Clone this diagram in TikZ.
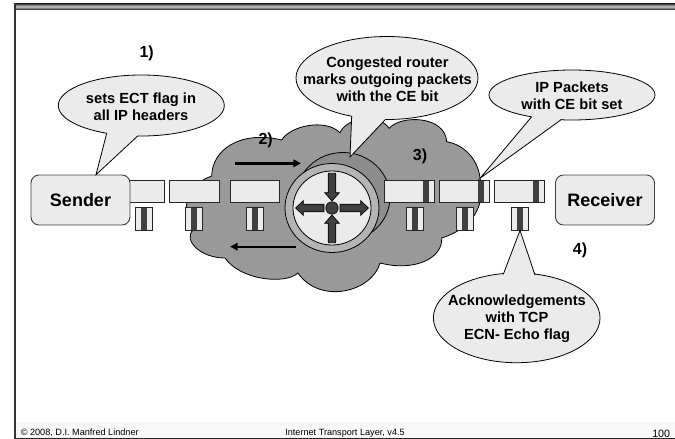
\documentclass[tikz,border=0pt]{standalone}
\usepackage{fontspec}
\setmainfont{Liberation Sans}
\usetikzlibrary{shapes.geometric,arrows.meta}
\definecolor{pale}{HTML}{EBEBEB}
\definecolor{cloudgray}{HTML}{999999}
\definecolor{ringgray}{HTML}{B4B4B4}
\definecolor{band}{HTML}{404040}
\definecolor{footband}{HTML}{F8F8F8}
\tikzset{
  px/.style={x=0.75pt,y=-0.75pt},
  call/.style={ellipse,draw=black,line width=0.6pt,fill=pale,inner sep=0pt},
  calltext/.style={inner sep=0pt,align=center,font=\fontsize{11}{12.9}\selectfont\bfseries},
  tailfill/.style={fill=pale,draw=none},
  tailline/.style={draw=black,line width=0.6pt,line join=miter},
  hostbox/.style={draw=black!75,line width=0.7pt,fill=pale,rounded corners=6pt,minimum width=74.25pt,minimum height=37.5pt,inner sep=0pt,font=\fontsize{13.5}{15}\selectfont\bfseries},
  pkt/.style={draw=black!85,line width=0.6pt,fill=pale},
  darkband/.style={fill=band,draw=none},
  step label/.style={font=\fontsize{12}{14}\selectfont\bfseries,inner sep=0pt},
  foot/.style={font=\fontsize{6.85}{9}\selectfont,inner sep=0pt,anchor=base west},
  flow/.style={draw=black,line width=1.8pt,-{Triangle[length=5.8pt,width=5.6pt]}},
  rarrow/.style={fill=band,draw=black,line width=0.5pt,line join=miter},
}
\begin{document}
\begin{tikzpicture}[px]
\useasboundingbox (0,0) rectangle (675,439);
% frame
\fill[footband] (16,422) rectangle (675,438);
\shade[top color=black!85,bottom color=black!85,middle color=black!20] (14,3.3) rectangle (675,9.7);
\fill[black!80] (14,3) rectangle (16,439);
\fill[black!85] (14,437.7) rectangle (675,438.9);
% cloud
\draw[fill=cloudgray,draw=black,line width=0.6pt,line join=miter]
 (211.7,176) .. controls (212,150) and (240,130) .. (281.7,140)
 .. controls (290,126) and (325,118) .. (340,132.7)
 .. controls (345,120) and (375,110) .. (389.3,128.3)
 .. controls (400,115) and (445,115) .. (446.7,141.7)
 .. controls (465,145) and (478,160) .. (480,178)
 .. controls (484,195) and (482,225) .. (441.7,238)
 .. controls (443,258) and (415,272) .. (380,263)
 .. controls (372,292) and (320,305) .. (298,273)
 .. controls (285,285) and (240,280) .. (225,258)
 .. controls (200,258) and (183,240) .. (193,230)
 .. controls (180,215) and (185,185) .. (211.7,176) -- cycle;
% router
\draw[fill=cloudgray!92!black,draw=black,line width=0.6pt] (343,197) ellipse [x radius=47,y radius=44.5];
\draw[fill=ringgray,draw=black,line width=0.6pt] (332,208) ellipse [x radius=47,y radius=44.5];
\draw[fill=pale,draw=black,line width=0.6pt] (332,208) ellipse [x radius=39,y radius=37];
\begin{scope}[shift={(332,208)}]
 \foreach \a/\b/\h/\t in {90/-34.7/-15.3/-7,270/-34.7/-15.3/-7,180/8/28.7/36.5,0/8/28.7/36.5}{
  \draw[rarrow,rotate=\a] (\b,-3.8) -- (\h,-3.8) -- (\h,-7.3) -- (\t,0) -- (\h,7.3) -- (\h,3.8) -- (\b,3.8) -- cycle;
 }
 \draw[fill=band,draw=black,line width=0.5pt] (0,0) circle [radius=6.2];
\end{scope}
% flow arrows
\coordinate (fa) at (235,163.3); \coordinate (fb) at (301,163.3);
\coordinate (ba) at (296,246.7); \coordinate (bb) at (230,246.7);
\draw[flow] (fa) -- (fb);
\draw[flow] (ba) -- (bb);
% packets
\foreach \l/\r in {128/164,169/219,230/279.5}{
  \draw[pkt] (\l,180.5) rectangle (\r,202.5);
}
\foreach \l/\r/\k in {384.3/434.3/423,439.3/489.7/478.3,494.3/544.7/533.3}{
  \draw[pkt] (\l,180.5) rectangle (\r,202.5);
  \fill[darkband] (\k,181) rectangle ({\k+6},202);
}
\foreach \l in {135.5,185.7,246.3,406.5,456,511.5}{
  \draw[pkt,fill=pale] (\l,207.7) rectangle ({\l+17},230.7);
  \fill[darkband] ({\l+5.7},208) rectangle ({\l+11.7},230.4);
}
% hosts
\node[hostbox] (sender) at (80.5,200) {Sender};
\node[hostbox] (receiver) at (605,200) {Receiver};
% callouts
\node[call,minimum width=124.5pt,minimum height=45.75pt] (c1) at (141.3,105.5) {};
\node[call,minimum width=136.5pt,minimum height=62.25pt] (c2) at (387,78) {};
\node[call,minimum width=124.5pt,minimum height=37.5pt] (c3) at (572,95) {};
\node[call,minimum width=125pt,minimum height=67.3pt] (c4) at (516.7,317.85) {};
\coordinate (t1) at (96,174.7); \coordinate (t2) at (350,157); \coordinate (t3) at (480,178.3); \coordinate (t4) at (520,230.5);
\fill[tailfill] (106.7,132.8) -- (t1) -- (137.7,135.5) -- (125,130) -- cycle;
\draw[tailline] (106.7,133.3) -- (t1) -- (137.7,136);
\fill[tailfill] (351.7,115.5) -- (t2) -- (385,119.5) -- (370,110) -- cycle;
\draw[tailline] (351.7,116) -- (t2) -- (385,120);
\fill[tailfill] (531.7,116.2) -- (t3) -- (561.7,118.8) -- (545,110) -- cycle;
\draw[tailline] (531.7,116.7) -- (t3) -- (561.7,119.3);
\fill[tailfill] (503.3,275) -- (t4) -- (535,275.7) -- (520,282) -- cycle;
\draw[tailline] (503.3,274.3) -- (t4) -- (535,275);
\node[calltext] (c1t) at (141,106.5) {sets ECT flag in\\all IP headers};
\node[calltext] (c2t) at (387.5,79) {Congested router\\marks outgoing packets\\with the CE bit};
\node[calltext] (c3t) at (572,95.5) {IP Packets\\with CE bit set};
\node[calltext] (c4t) at (517,319) {Acknowledgements\\with TCP\\ECN- Echo flag};
% step labels
\node[step label] (s1) at (146.7,53.5) {1)};
\node[step label] (s2) at (265.7,140) {2)};
\node[step label] (s3) at (420,156) {3)};
\node[step label] (s4) at (580,250.5) {4)};
% footer
\node[foot] (f1) at (20.5,435.5) {© 2008, D.I. Manfred Lindner};
\node[foot] (f2) at (285,435.5) {Internet Transport Layer, v4.5};
\node[foot,font=\fontsize{8}{10}\selectfont] (f3) at (652,437) {100};
\end{tikzpicture}
\end{document}
